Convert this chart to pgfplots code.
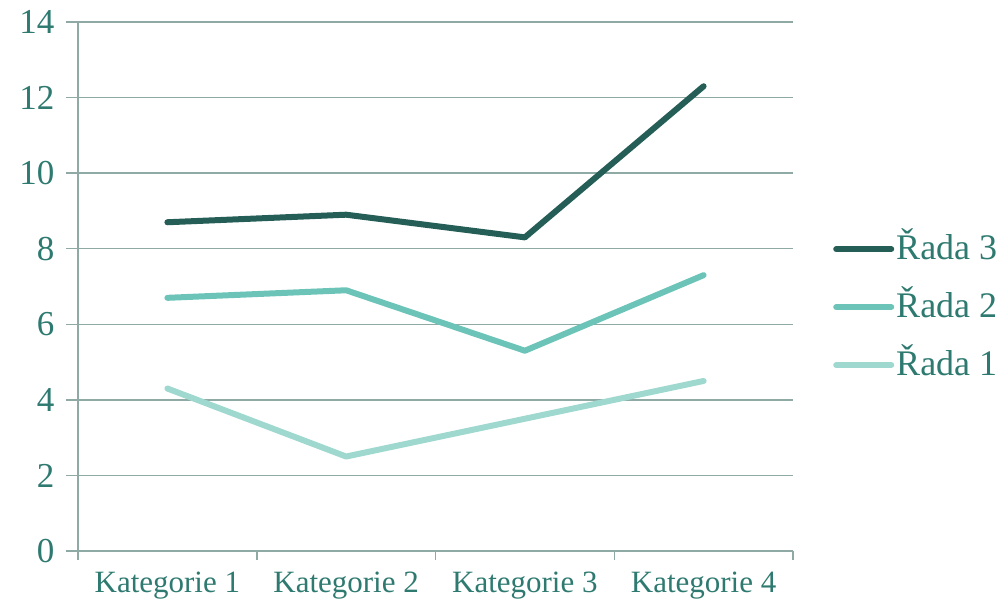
\documentclass[border=0pt]{standalone}
\usepackage{pgfplots}
\pgfplotsset{compat=1.18}
\usepackage{fontspec}
\setmainfont{Liberation Serif}
\definecolor{txt}{HTML}{2E7A70}
\definecolor{gridc}{HTML}{8FA9A4}
\definecolor{sA}{HTML}{9ED8CF}
\definecolor{sB}{HTML}{6CC4B9}
\definecolor{sC}{HTML}{255E57}
\begin{document}
\begin{tikzpicture}[x=1pt,y=1pt]
\useasboundingbox (0,0) rectangle (997,607);
\begin{axis}[at={(78pt,56pt)}, anchor=south west, scale only axis,
  width=715pt, height=529pt,
  xmin=0.5, xmax=4.5, ymin=0, ymax=14,
  ytick={0,2,...,14},
  xtick={1,2,3,4},
  xticklabels={Kategorie 1,Kategorie 2,Kategorie 3,Kategorie 4},
  minor xtick={0.5,1.5,2.5,3.5,4.5},
  /pgf/number format/assume math mode=true,
  axis x line*=bottom, axis y line*=left,
  axis line style={draw=gridc, line width=1.5pt, -},
  ymajorgrids, grid style={draw=gridc, line width=1.5pt},
  tick align=outside, major tick length=12pt, minor tick length=9pt,
  tick style={draw=gridc, line width=1.5pt},
  major x tick style={draw=none},
  yticklabel style={font=\fontsize{35}{40}\selectfont, text=txt, xshift=-8pt},
  xticklabel style={font=\fontsize{31}{36}\selectfont, text=txt, yshift=-5pt},
  legend style={at={(1.056,0.461)}, anchor=west, draw=none, fill=none,
    font=\fontsize{36}{42}\selectfont, text=txt, row sep=18pt,
    inner sep=0pt, nodes={inner sep=2pt, text height=28pt, text depth=8pt}},
  legend cell align=left, reverse legend,
  legend image code/.code={\draw[#1] (0pt,0pt) -- (55pt,0pt);},
  every axis plot/.append style={line width=6pt, line cap=round, line join=round},
]
\addplot[sA] coordinates {(1,4.3) (2,2.5) (3,3.5) (4,4.5)};
\addlegendentry{Řada 1}
\addplot[sB] coordinates {(1,6.7) (2,6.9) (3,5.3) (4,7.3)};
\addlegendentry{Řada 2}
\addplot[sC] coordinates {(1,8.7) (2,8.9) (3,8.3) (4,12.3)};
\addlegendentry{Řada 3}
\end{axis}
\end{tikzpicture}
\end{document}
